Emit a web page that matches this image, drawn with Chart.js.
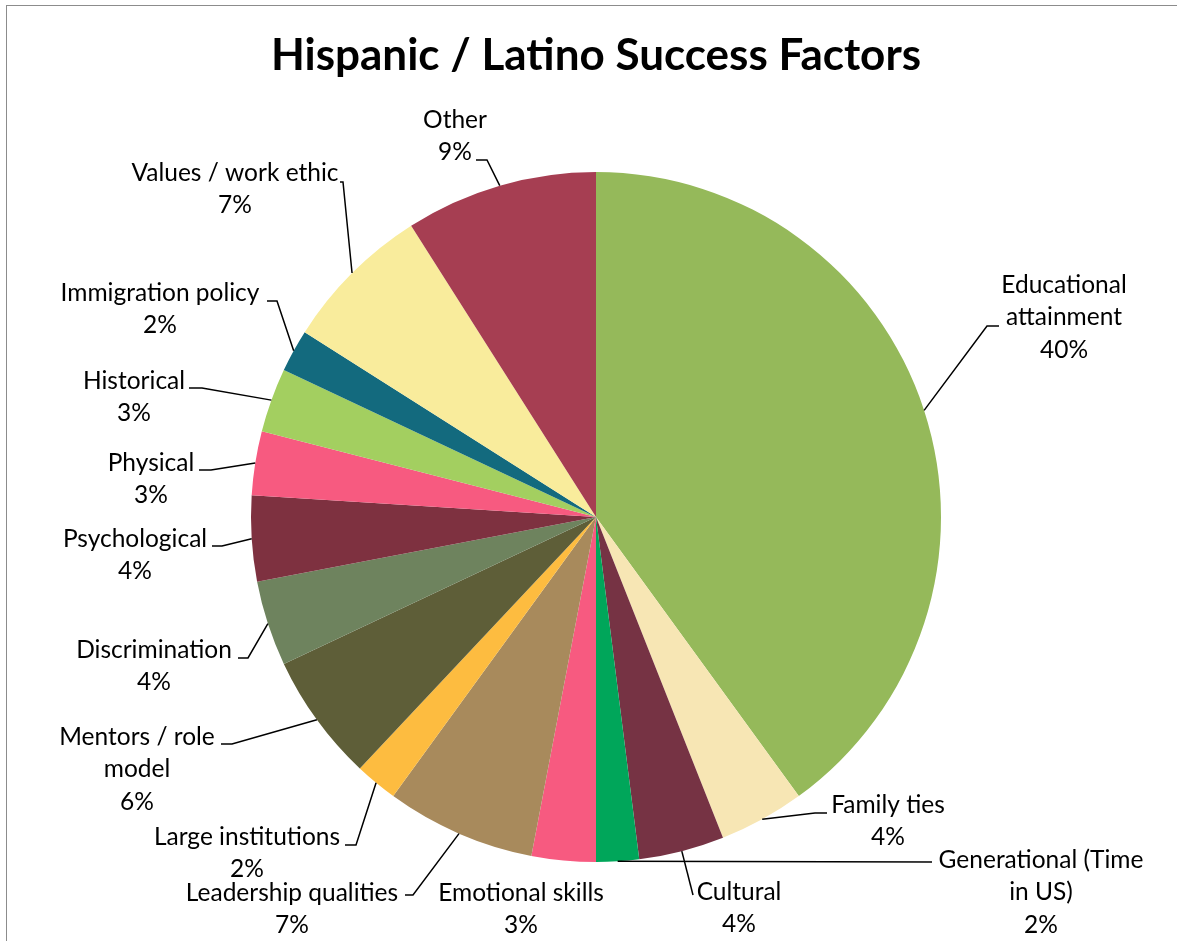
<!DOCTYPE html>
<html>
<head>
<meta charset="utf-8">
<script src="https://cdn.jsdelivr.net/npm/chart.js@4/dist/chart.umd.min.js"></script>
<style>
  html, body { margin: 0; padding: 0; background: #ffffff; }
  #wrap { position: relative; width: 1177px; height: 941px; }
</style>
</head>
<body>
<div id="wrap"><canvas id="c" width="1177" height="941"></canvas></div>
<script>
// ---- data ----
const chartTitle = 'Hispanic / Latino Success Factors';
const categories = [
  'Educational attainment', 'Family ties', 'Cultural', 'Generational (Time in US)',
  'Emotional skills', 'Leadership qualities', 'Large institutions', 'Mentors / role model',
  'Discrimination', 'Psychological', 'Physical', 'Historical', 'Immigration policy',
  'Values / work ethic', 'Other'
];
const values = [40, 4, 4, 2, 3, 7, 2, 6, 4, 4, 3, 3, 2, 7, 9];
// how each category label wraps in the picture
const labelLines = [
  ['Educational', 'attainment'], ['Family ties'], ['Cultural'], ['Generational (Time', 'in US)'],
  ['Emotional skills'], ['Leadership qualities'], ['Large institutions'], ['Mentors / role', 'model'],
  ['Discrimination'], ['Psychological'], ['Physical'], ['Historical'], ['Immigration policy'],
  ['Values / work ethic'], ['Other']
];

// ---- styles ----
const colors = [
  '#95B95A', '#F7E6B4', '#763344', '#00A65A', '#F75A80', '#A88A5C', '#FDBC40', '#5E5E38',
  '#6E835E', '#7E3140', '#F75A80', '#A3CF60', '#136A7E', '#F9EC9C', '#A63E52'
];
// label layout, relative to the pie centre: [textX, firstLineY, attachX, attachY, elbowX] (null = no leader)
const labelLayout = [
  [468, -232, 403, -191, 391],
  [292, 288, 231, 296, 219],
  [143, 375, 97, 378, 97],
  [445, 343, 336, 345, 336],
  [-75, 376, null, null, null],
  [-304, 376, -191, 378, -183],
  [-349, 320, -251, 328, -240],
  [-459, 220, -375, 227, -364],
  [-442, 133, -358, 141, -348],
  [-461, 22, -384, 29, -374],
  [-445, -54, -397, -47, -385],
  [-462, -136, -407, -129, -394],
  [-436, -224, -329, -216, -319],
  [-361, -344, -256, -335, -253],
  [-141, -397, -120, -357, -109]
];
const labelFont = '24.5px Lato, "Open Sans", sans-serif';
const lineStep = 32.5;

const total = values.reduce((a, b) => a + b, 0);

const labelPlugin = {
  id: 'excelLabels',
  beforeDraw(chart) {
    const ctx = chart.ctx;
    ctx.save();
    ctx.strokeStyle = '#8c8c8c';
    ctx.lineWidth = 1;
    ctx.strokeRect(6.5, 5.5, 1200, 1000);
    ctx.restore();
  },
  afterDatasetsDraw(chart) {
    const ctx = chart.ctx;
    const meta = chart.getDatasetMeta(0);
    ctx.save();
    ctx.font = labelFont;
    ctx.fillStyle = '#000000';
    ctx.strokeStyle = '#000000';
    ctx.lineWidth = 1.5;
    ctx.textAlign = 'center';
    ctx.textBaseline = 'middle';
    meta.data.forEach((arc, i) => {
      const p = arc.getProps(['x', 'y', 'startAngle', 'endAngle', 'outerRadius'], true);
      const L = labelLayout[i];
      const mid = (p.startAngle + p.endAngle) / 2;
      if (L[2] !== null) {
        const px = p.x + Math.cos(mid) * p.outerRadius;
        const py = p.y + Math.sin(mid) * p.outerRadius;
        ctx.beginPath();
        ctx.moveTo(px, py);
        ctx.lineTo(p.x + L[4], p.y + L[3]);
        ctx.lineTo(p.x + L[2], p.y + L[3]);
        ctx.stroke();
      }
      const pct = Math.round(values[i] / total * 100) + '%';
      const lines = labelLines[i].concat([pct]);
      lines.forEach((t, k) => {
        ctx.fillText(t, p.x + L[0], p.y + L[1] + k * lineStep);
      });
    });
    ctx.restore();
  }
};

new Chart(document.getElementById('c'), {
  type: 'pie',
  data: {
    labels: categories,
    datasets: [{
      data: values,
      backgroundColor: colors,
      borderWidth: 0
    }]
  },
  options: {
    responsive: false,
    devicePixelRatio: 1,
    animation: false,
    layout: { padding: { left: 15, right: 0, top: 0, bottom: 79 } },
    plugins: {
      legend: { display: false },
      tooltip: { enabled: false },
      title: {
        display: true,
        text: chartTitle,
        color: '#000000',
        font: { family: 'Lato, "Open Sans", sans-serif', size: 44, weight: 'bold', lineHeight: 1.2 },
        padding: { top: 29.6, bottom: 89.6 }
      }
    }
  },
  plugins: [labelPlugin]
});
</script>
</body>
</html>
